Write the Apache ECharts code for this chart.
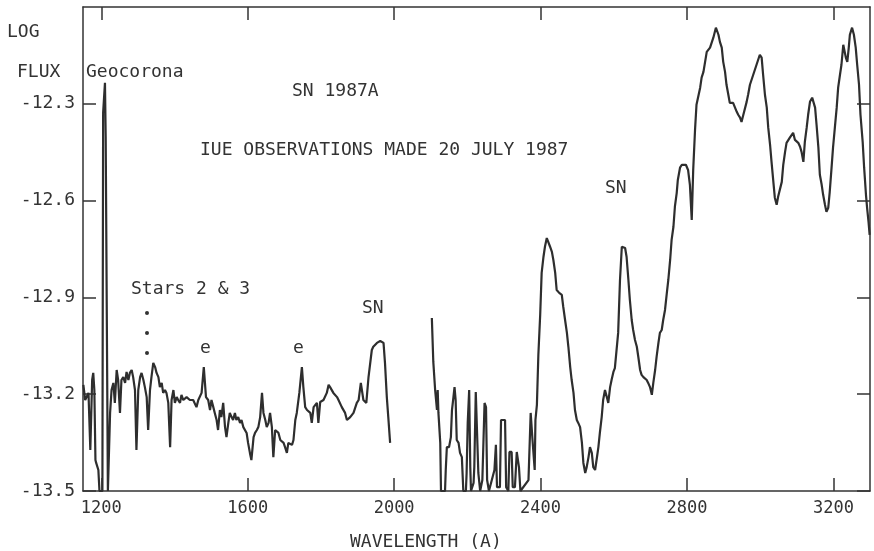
<!DOCTYPE html>
<html>
<head>
<meta charset="utf-8">
<title>SN 1987A IUE spectrum</title>
<script src="https://cdn.jsdelivr.net/npm/echarts@6/dist/echarts.min.js"></script>
<style>
  html, body { margin: 0; padding: 0; background: #fff; }
  #chart { width: 874px; height: 551px; }
</style>
</head>
<body>
<div id="chart"></div>
<script>
// short-wavelength camera part, [wavelength A, log flux]
const swpSpectrum = [
  [1151,-13.171],[1156,-13.218],[1165,-13.196],[1170,-13.373],[1175,-13.156],[1178,-13.134],
  [1181,-13.187],[1184,-13.404],[1186,-13.413],[1192,-13.435],[1195,-13.5],[1203,-13.5],
  [1205,-12.328],[1210,-12.235],[1212,-12.402],[1215,-12.402],[1218,-13.5],[1222,-13.5],
  [1224,-13.258],[1228,-13.187],[1233,-13.165],[1237,-13.227],[1242,-13.125],[1246,-13.156],
  [1251,-13.258],[1255,-13.156],[1260,-13.147],[1265,-13.165],[1269,-13.131],[1274,-13.156],
  [1278,-13.134],[1283,-13.125],[1287,-13.147],[1292,-13.187],[1296,-13.373],[1301,-13.187],
  [1306,-13.147],[1310,-13.134],[1315,-13.156],[1319,-13.178],[1324,-13.209],[1328,-13.311],
  [1333,-13.187],[1337,-13.147],[1342,-13.103],[1347,-13.116],[1351,-13.134],[1356,-13.147],
  [1360,-13.178],[1365,-13.165],[1369,-13.196],[1374,-13.187],[1378,-13.196],[1383,-13.227],
  [1388,-13.364],[1392,-13.218],[1397,-13.187],[1401,-13.227],[1406,-13.209],[1410,-13.218],
  [1415,-13.227],[1419,-13.202],[1424,-13.218],[1433,-13.209],[1442,-13.218],[1451,-13.218],
  [1460,-13.240],[1465,-13.218],[1474,-13.196],[1480,-13.116],[1486,-13.209],[1492,-13.218],
  [1497,-13.249],[1501,-13.218],[1506,-13.240],[1510,-13.258],[1515,-13.280],[1519,-13.311],
  [1524,-13.249],[1528,-13.271],[1533,-13.227],[1538,-13.302],[1542,-13.333],[1547,-13.289],
  [1551,-13.258],[1556,-13.271],[1560,-13.280],[1565,-13.258],[1569,-13.280],[1574,-13.271],
  [1579,-13.289],[1583,-13.280],[1588,-13.302],[1597,-13.320],[1601,-13.351],[1606,-13.382],
  [1610,-13.404],[1616,-13.333],[1620,-13.320],[1625,-13.311],[1629,-13.302],[1634,-13.271],
  [1639,-13.196],[1643,-13.258],[1648,-13.280],[1652,-13.302],[1657,-13.289],[1661,-13.258],
  [1666,-13.302],[1670,-13.395],[1675,-13.311],[1680,-13.305],[1684,-13.320],[1689,-13.342],
  [1698,-13.351],[1702,-13.364],[1707,-13.382],[1711,-13.351],[1721,-13.357],[1725,-13.342],
  [1730,-13.280],[1734,-13.258],[1741,-13.196],[1748,-13.116],[1752,-13.178],[1757,-13.240],
  [1762,-13.249],[1771,-13.258],[1775,-13.289],[1780,-13.240],[1789,-13.227],[1793,-13.289],
  [1798,-13.224],[1807,-13.218],[1816,-13.196],[1821,-13.171],[1825,-13.178],[1834,-13.196],
  [1844,-13.209],[1848,-13.218],[1857,-13.240],[1866,-13.258],[1871,-13.280],[1880,-13.271],
  [1889,-13.258],[1898,-13.227],[1903,-13.218],[1909,-13.165],[1916,-13.218],[1924,-13.227],
  [1930,-13.147],[1939,-13.063],[1943,-13.053],[1953,-13.041],[1962,-13.035],[1971,-13.041],
  [1975,-13.103],[1980,-13.209],[1984,-13.271],[1989,-13.351]
];

// long-wavelength camera part
const lwpSpectrum = [
  [2103,-12.964],[2107,-13.100],[2112,-13.187],[2117,-13.249],[2119,-13.187],[2121,-13.258],
  [2126,-13.351],[2128,-13.5],[2139,-13.5],[2141,-13.435],[2144,-13.364],[2150,-13.364],
  [2155,-13.333],[2158,-13.249],[2162,-13.209],[2165,-13.178],[2168,-13.218],[2171,-13.342],
  [2176,-13.351],[2180,-13.382],[2185,-13.395],[2189,-13.5],[2196,-13.5],[2198,-13.444],
  [2201,-13.289],[2205,-13.187],[2208,-13.426],[2210,-13.5],[2217,-13.475],[2219,-13.426],
  [2223,-13.193],[2227,-13.187],[2230,-13.444],[2235,-13.5],[2241,-13.466],[2247,-13.227],
  [2251,-13.240],[2254,-13.466],[2259,-13.5],[2274,-13.435],[2278,-13.357],[2281,-13.488],
  [2289,-13.488],[2292,-13.280],[2303,-13.280],[2306,-13.488],[2312,-13.5],[2315,-13.379],
  [2321,-13.379],[2324,-13.488],[2330,-13.488],[2335,-13.379],[2341,-13.426],[2345,-13.5],
  [2367,-13.466],[2373,-13.258],[2378,-13.342],[2384,-13.435],[2386,-13.280],[2390,-13.233],
  [2394,-13.078],[2399,-12.954],[2403,-12.824],[2408,-12.774],[2412,-12.743],[2417,-12.716],
  [2421,-12.728],[2426,-12.743],[2431,-12.759],[2435,-12.784],[2440,-12.824],[2444,-12.877],
  [2451,-12.886],[2458,-12.892],[2462,-12.929],[2467,-12.970],[2472,-13.010],[2476,-13.053],
  [2481,-13.116],[2485,-13.156],[2490,-13.196],[2494,-13.249],[2499,-13.280],[2503,-13.289],
  [2508,-13.302],[2513,-13.351],[2517,-13.413],[2522,-13.444],[2526,-13.426],[2531,-13.395],
  [2535,-13.364],[2540,-13.382],[2544,-13.426],[2549,-13.435],[2553,-13.404],[2558,-13.364],
  [2562,-13.320],[2567,-13.271],[2571,-13.218],[2576,-13.187],[2581,-13.209],[2585,-13.227],
  [2590,-13.178],[2594,-13.156],[2599,-13.131],[2603,-13.119],[2608,-13.116],[2612,-13.010],
  [2617,-12.846],[2622,-12.743],[2626,-12.737],[2631,-12.747],[2635,-12.774],[2640,-12.846],
  [2644,-12.908],[2649,-12.970],[2653,-13.001],[2658,-13.032],[2663,-13.053],[2667,-13.084],
  [2672,-13.125],[2676,-13.140],[2681,-13.147],[2690,-13.156],[2694,-13.165],[2699,-13.178],
  [2704,-13.202],[2708,-13.165],[2713,-13.125],[2717,-13.084],[2722,-13.041],[2726,-13.010],
  [2731,-13.001],[2735,-12.970],[2740,-12.939],[2745,-12.886],[2749,-12.846],[2754,-12.784],
  [2758,-12.722],[2763,-12.681],[2767,-12.619],[2772,-12.576],[2775,-12.536],[2781,-12.498],
  [2786,-12.489],[2797,-12.489],[2803,-12.505],[2808,-12.551],[2813,-12.660],[2817,-12.505],
  [2822,-12.381],[2826,-12.303],[2836,-12.250],[2840,-12.219],[2845,-12.201],[2854,-12.139],
  [2863,-12.126],[2872,-12.095],[2879,-12.064],[2886,-12.086],[2890,-12.108],[2895,-12.126],
  [2899,-12.170],[2904,-12.201],[2908,-12.241],[2913,-12.272],[2917,-12.297],[2926,-12.297],
  [2931,-12.303],[2936,-12.325],[2940,-12.334],[2945,-12.343],[2949,-12.356],[2954,-12.334],
  [2963,-12.294],[2967,-12.272],[2972,-12.241],[2981,-12.210],[2990,-12.179],[2999,-12.148],
  [3004,-12.157],[3008,-12.210],[3013,-12.272],[3018,-12.312],[3022,-12.374],[3027,-12.427],
  [3031,-12.480],[3036,-12.542],[3040,-12.591],[3045,-12.613],[3049,-12.588],[3054,-12.582],
  [3059,-12.542],[3063,-12.489],[3068,-12.449],[3072,-12.421],[3081,-12.405],[3090,-12.390],
  [3095,-12.412],[3099,-12.418],[3104,-12.421],[3109,-12.433],[3113,-12.449],[3118,-12.480],
  [3122,-12.418],[3127,-12.374],[3131,-12.334],[3136,-12.294],[3142,-12.281],[3150,-12.312],
  [3154,-12.365],[3159,-12.436],[3163,-12.520],[3168,-12.551],[3172,-12.582],[3177,-12.613],
  [3181,-12.635],[3186,-12.622],[3190,-12.573],[3195,-12.498],[3199,-12.436],[3204,-12.374],
  [3209,-12.312],[3213,-12.250],[3218,-12.210],[3222,-12.179],[3227,-12.117],[3231,-12.117],
  [3234,-12.157],[3238,-12.170],[3242,-12.126],[3245,-12.086],[3251,-12.064],[3256,-12.086],
  [3261,-12.126],[3265,-12.179],[3270,-12.241],[3274,-12.334],[3280,-12.418],[3284,-12.498],
  [3289,-12.582],[3292,-12.622],[3296,-12.666],[3299,-12.706]
];

const xTicks = [1200, 1600, 2000, 2400, 2800, 3200];
const yTicks = [-13.5, -13.2, -12.9, -12.6, -12.3];

const ink = '#333';
const font = 'DejaVu Sans Mono';

let chart = echarts.init(document.getElementById('chart'));

function xAxisCfg(pos, showLabel) {
  return {
    type: 'value',
    position: pos,
    min: 1150,
    max: 3300,
    axisLine: { onZero: false, lineStyle: { color: ink, width: 1.5 } },
    axisTick: { inside: true, length: 13, customValues: xTicks, lineStyle: { color: ink, width: 1.5 } },
    axisLabel: {
      show: showLabel,
      customValues: xTicks,
      margin: 9,
      color: ink,
      fontFamily: font,
      fontSize: 17,
      formatter: (v) => String(v),
    },
    splitLine: { show: false },
  };
}

function yAxisCfg(pos, showLabel) {
  return {
    type: 'value',
    position: pos,
    min: -13.5,
    max: -12.0,
    axisLine: { onZero: false, lineStyle: { color: ink, width: 1.5 } },
    axisTick: { inside: true, length: 13, customValues: yTicks, lineStyle: { color: ink, width: 1.5 } },
    axisLabel: {
      show: showLabel,
      customValues: yTicks,
      margin: 8,
      color: ink,
      fontFamily: font,
      fontSize: 18,
      formatter: (v) => v.toFixed(1),
    },
    splitLine: { show: false },
  };
}

function label(text, x, y) {
  return {
    type: 'text',
    left: x,
    top: y,
    style: { text: text, fill: ink, font: '18px "' + font + '"' },
  };
}

function dot(x, y) {
  return { type: 'circle', shape: { cx: x, cy: y, r: 2 }, style: { fill: ink } };
}

let option = {
  backgroundColor: '#fff',
  animation: false,
  grid: { left: 83, right: 4, top: 7, bottom: 60, containLabel: false },
  xAxis: [xAxisCfg('bottom', true), xAxisCfg('top', false)],
  yAxis: [yAxisCfg('left', true), yAxisCfg('right', false)],
  graphic: [
    label('LOG', 7, 23),
    label('FLUX', 17, 63),
    label('Geocorona', 86, 63),
    label('SN 1987A', 292, 82),
    label('IUE OBSERVATIONS MADE 20 JULY 1987', 200, 141),
    label('SN', 605, 179),
    label('Stars 2 & 3', 131, 280),
    label('e', 200, 339),
    label('e', 293, 339),
    label('SN', 362, 299),
    label('WAVELENGTH (A)', 350, 533),
    dot(147, 313),
    dot(147, 333),
    dot(147, 353),
  ],
  series: [
    {
      name: 'SWP',
      type: 'line',
      data: swpSpectrum,
      showSymbol: false,
      lineStyle: { color: '#2e2e2e', width: 2.2 },
    },
    {
      name: 'LWP',
      type: 'line',
      data: lwpSpectrum,
      showSymbol: false,
      lineStyle: { color: '#2e2e2e', width: 2.2 },
    },
  ],
};

option && chart.setOption(option);
</script>
</body>
</html>
